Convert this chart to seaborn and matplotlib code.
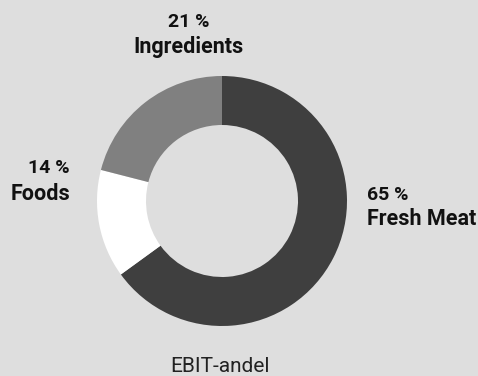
import matplotlib
matplotlib.use("Agg")
import matplotlib.pyplot as plt
import seaborn as sns

categories = ["Fresh Meat", "Foods", "Ingredients"]
shares = [65, 14, 21]
colors = ["#3f3f3f", "#ffffff", "#808080"]
caption = "EBIT-andel"

sns.set_theme(style="white")
plt.rcParams['font.family'] = ['Roboto', 'DejaVu Sans']

bg = "#dedede"
H = 376
fig = plt.figure(figsize=(4.78, 3.76), dpi=100, facecolor=bg)
ax = fig.add_axes([0, 0, 1, 1])
ax.set_facecolor(bg)

cx, cy, r = 222, H - 201, 125
ax.pie(shares, colors=colors, startangle=90, counterclock=False,
       center=(cx, cy), radius=r, frame=True,
       wedgeprops=dict(width=49, linewidth=0))
ax.set_xlim(0, 478)
ax.set_ylim(0, H)
ax.set_aspect("equal")
ax.axis("off")

def lab(x, y_pct, y_name, pct, name, ha):
    ax.text(x, H - y_pct, f"{pct} %", ha=ha, va="baseline", fontsize=14,
            fontweight="bold", color="#111111")
    ax.text(x, H - y_name, name, ha=ha, va="baseline", fontsize=15.5,
            fontweight="bold", color="#111111")

lab(189, 27, 53, shares[2], categories[2], "center")
lab(70, 173, 200, shares[1], categories[1], "right")
lab(367, 200, 225, shares[0], categories[0], "left")

ax.text(220, H - 372, caption, ha="center", va="baseline", fontsize=15,
        color="#222222")

fig.savefig("out.png", dpi=100, facecolor=bg)
